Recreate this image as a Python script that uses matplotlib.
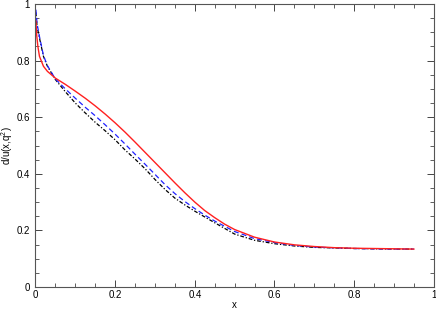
import matplotlib
matplotlib.use("Agg")
import matplotlib.pyplot as plt
from matplotlib.ticker import MultipleLocator, FuncFormatter

red_x = [0.001, 0.003, 0.006, 0.01, 0.02, 0.03, 0.05, 0.075, 0.1, 0.125, 0.15, 0.175, 0.2, 0.225,
         0.25, 0.275, 0.3, 0.325, 0.35, 0.375, 0.4, 0.425, 0.45, 0.475, 0.5, 0.55, 0.6, 0.65,
         0.7, 0.75, 0.8, 0.9, 0.95]
red_y = [0.94, 0.89, 0.85, 0.815, 0.78, 0.762, 0.738, 0.716, 0.692, 0.667, 0.64, 0.611, 0.58, 0.547,
         0.512, 0.476, 0.44, 0.404, 0.368, 0.333, 0.3, 0.27, 0.245, 0.222, 0.203, 0.176, 0.159, 0.149,
         0.143, 0.139, 0.137, 0.135, 0.134]

blue_x = [0.001, 0.004, 0.01, 0.02, 0.03, 0.05, 0.075, 0.1, 0.125, 0.15, 0.175, 0.2, 0.225, 0.25,
          0.275, 0.3, 0.325, 0.35, 0.375, 0.4, 0.425, 0.45, 0.5, 0.55, 0.6, 0.65, 0.7, 0.8, 0.9, 0.95]
blue_y = [0.98, 0.93, 0.885, 0.818, 0.782, 0.735, 0.7, 0.667, 0.635, 0.605, 0.573, 0.54, 0.505, 0.469,
          0.434, 0.398, 0.362, 0.33, 0.302, 0.277, 0.254, 0.233, 0.196, 0.171, 0.157, 0.147, 0.141,
          0.136, 0.134, 0.134]

black_x = [0.001, 0.004, 0.01, 0.02, 0.03, 0.05, 0.075, 0.1, 0.125, 0.15, 0.175, 0.2, 0.225, 0.25,
           0.275, 0.3, 0.325, 0.35, 0.375, 0.4, 0.45, 0.5, 0.55, 0.6, 0.65, 0.7, 0.8, 0.9, 0.95]
black_y = [0.97, 0.92, 0.88, 0.815, 0.78, 0.733, 0.69, 0.65, 0.615, 0.582, 0.552, 0.52, 0.484, 0.452,
           0.418, 0.38, 0.345, 0.314, 0.29, 0.268, 0.227, 0.187, 0.165, 0.153, 0.145, 0.14, 0.136,
           0.134, 0.134]

x_label = "x"
y_label = "d/u(x,q$^2$)"

plt.rcParams['font.family'] = ['Liberation Sans', 'DejaVu Sans']
plt.rcParams['mathtext.fontset'] = 'custom'
plt.rcParams['mathtext.rm'] = 'Liberation Sans'
fig = plt.figure(figsize=(4.36, 3.10), dpi=100)
ax = fig.add_axes([0.0814, 0.0742, 0.9136, 0.9128])

ax.plot(black_x, black_y, color='black', lw=0.9, ls=(0, (3, 1.5, 1, 1.5)))
ax.plot(blue_x, blue_y, color='#2020ff', lw=0.9, ls=(0, (4, 2.5)))
ax.plot(red_x, red_y, color='#ff2020', lw=1.0, ls='-')

ax.set_xlim(0, 1)
ax.set_ylim(0, 1)
ax.xaxis.set_major_locator(MultipleLocator(0.2))
ax.xaxis.set_minor_locator(MultipleLocator(0.05))
ax.yaxis.set_major_locator(MultipleLocator(0.2))
ax.yaxis.set_minor_locator(MultipleLocator(0.05))
fmt = FuncFormatter(lambda v, p: ('%g' % round(v, 2)))
ax.xaxis.set_major_formatter(fmt)
ax.yaxis.set_major_formatter(fmt)
ax.tick_params(which='both', direction='in', top=True, right=True, labelsize=7, colors='#444',
               labelcolor='black')
ax.tick_params(axis='x', pad=2)
ax.tick_params(axis='y', pad=4)
ax.tick_params(which='major', length=5, width=0.7)
ax.tick_params(which='minor', length=3, width=0.6)
for s in ax.spines.values():
    s.set_color('#555')
    s.set_linewidth(0.8)
ax.set_xlabel(x_label, fontsize=7, labelpad=0)
ax.set_ylabel(y_label, fontsize=7)
ax.yaxis.set_label_coords(-0.052, 0.5)

fig.savefig("out.png", dpi=100)
